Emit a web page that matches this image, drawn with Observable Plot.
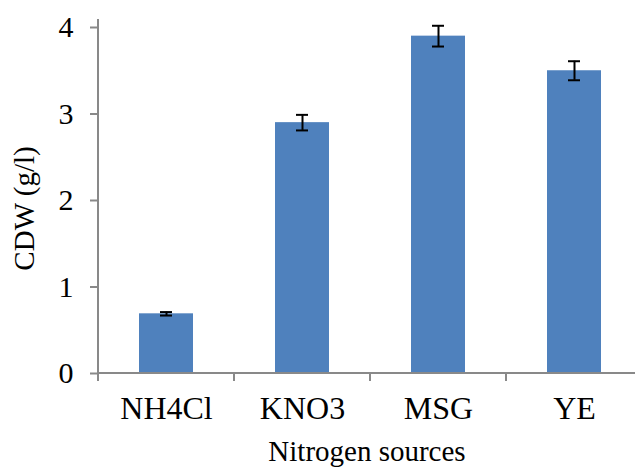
<!DOCTYPE html>
<html>
<head>
<meta charset="utf-8">
<script src="https://cdn.jsdelivr.net/npm/d3@7"></script>
<script src="https://cdn.jsdelivr.net/npm/@observablehq/plot@0.6"></script>
<style>
  html, body { margin: 0; padding: 0; background: white; overflow: hidden; }
</style>
</head>
<body>
<div id="chart"></div>
<script>
const categories = ["NH4Cl", "KNO3", "MSG", "YE"];
const cdw = [0.69, 2.90, 3.90, 3.50];
const sd = [0.02, 0.09, 0.12, 0.11];
const yTicks = [0, 1, 2, 3, 4];
const xTitle = "Nitrogen sources";
const yTitle = "CDW (g/l)";

const data = categories.map((c, i) => ({source: c, cdw: cdw[i], lo: cdw[i] - sd[i], hi: cdw[i] + sd[i]}));

const axisGrey = "#898989";

function axisLines(index, scales) {
  const x = scales.x, y = scales.y;
  const step = x(categories[1]) - x(categories[0]);
  const bw = typeof x.bandwidth === "function" ? x.bandwidth() : 0.4 * step;
  const gap = (step - bw) / 2;
  const bounds = categories.map(c => x(c) - gap);
  bounds.push(x(categories[categories.length - 1]) + bw + gap);
  const g = d3.create("svg:g").attr("stroke", axisGrey).attr("stroke-width", 2).attr("fill", "none");
  const x0 = bounds[0];
  g.append("line").attr("x1", x0).attr("x2", x0).attr("y1", y(yTicks[yTicks.length - 1]) - 8).attr("y2", y(0));
  g.append("line").attr("x1", x0 - 1).attr("x2", 635).attr("y1", y(0)).attr("y2", y(0));
  for (const b of bounds) {
    g.append("line").attr("x1", b).attr("x2", b).attr("y1", y(0)).attr("y2", y(0) + 8);
  }
  return g.node();
}

const chart = Plot.plot({
  width: 635,
  height: 468,
  marginLeft: 98,
  marginRight: 0,
  marginTop: 27,
  marginBottom: 95,
  style: {fontFamily: "'Liberation Serif', 'Times New Roman', serif", background: "white", color: "black", overflow: "visible"},
  x: {domain: categories, range: [98, 642], paddingInner: 0.6, paddingOuter: 0.3},
  y: {domain: [0, 4]},
  marks: [
    Plot.barY(data, {x: "source", y: "cdw", fill: "#4F81BD"}),
    Plot.ruleX(data, {x: "source", y1: "lo", y2: "hi", stroke: "black", strokeWidth: 2}),
    Plot.tickY(data, {x: "source", y: "lo", stroke: "black", strokeWidth: 2, insetLeft: 21, insetRight: 21}),
    Plot.tickY(data, {x: "source", y: "hi", stroke: "black", strokeWidth: 2, insetLeft: 21, insetRight: 21}),
    axisLines,
    Plot.axisY({ticks: yTicks, tickFormat: d3.format("d"), tickSize: 8, tickPadding: 17, stroke: axisGrey, strokeWidth: 2, fill: "black", fontSize: 30, label: null}),
    Plot.axisX({tickSize: 0, tickPadding: 23, fontSize: 32, fill: "black", label: null}),
    Plot.text([yTitle], {frameAnchor: "left", textAnchor: "middle", rotate: -90, dx: -74, dy: 8, fontSize: 29, fill: "black"}),
    Plot.text([xTitle], {frameAnchor: "bottom", dy: 87, fontSize: 29, fill: "black"})
  ]
});

document.getElementById("chart").appendChild(chart);
</script>
</body>
</html>
